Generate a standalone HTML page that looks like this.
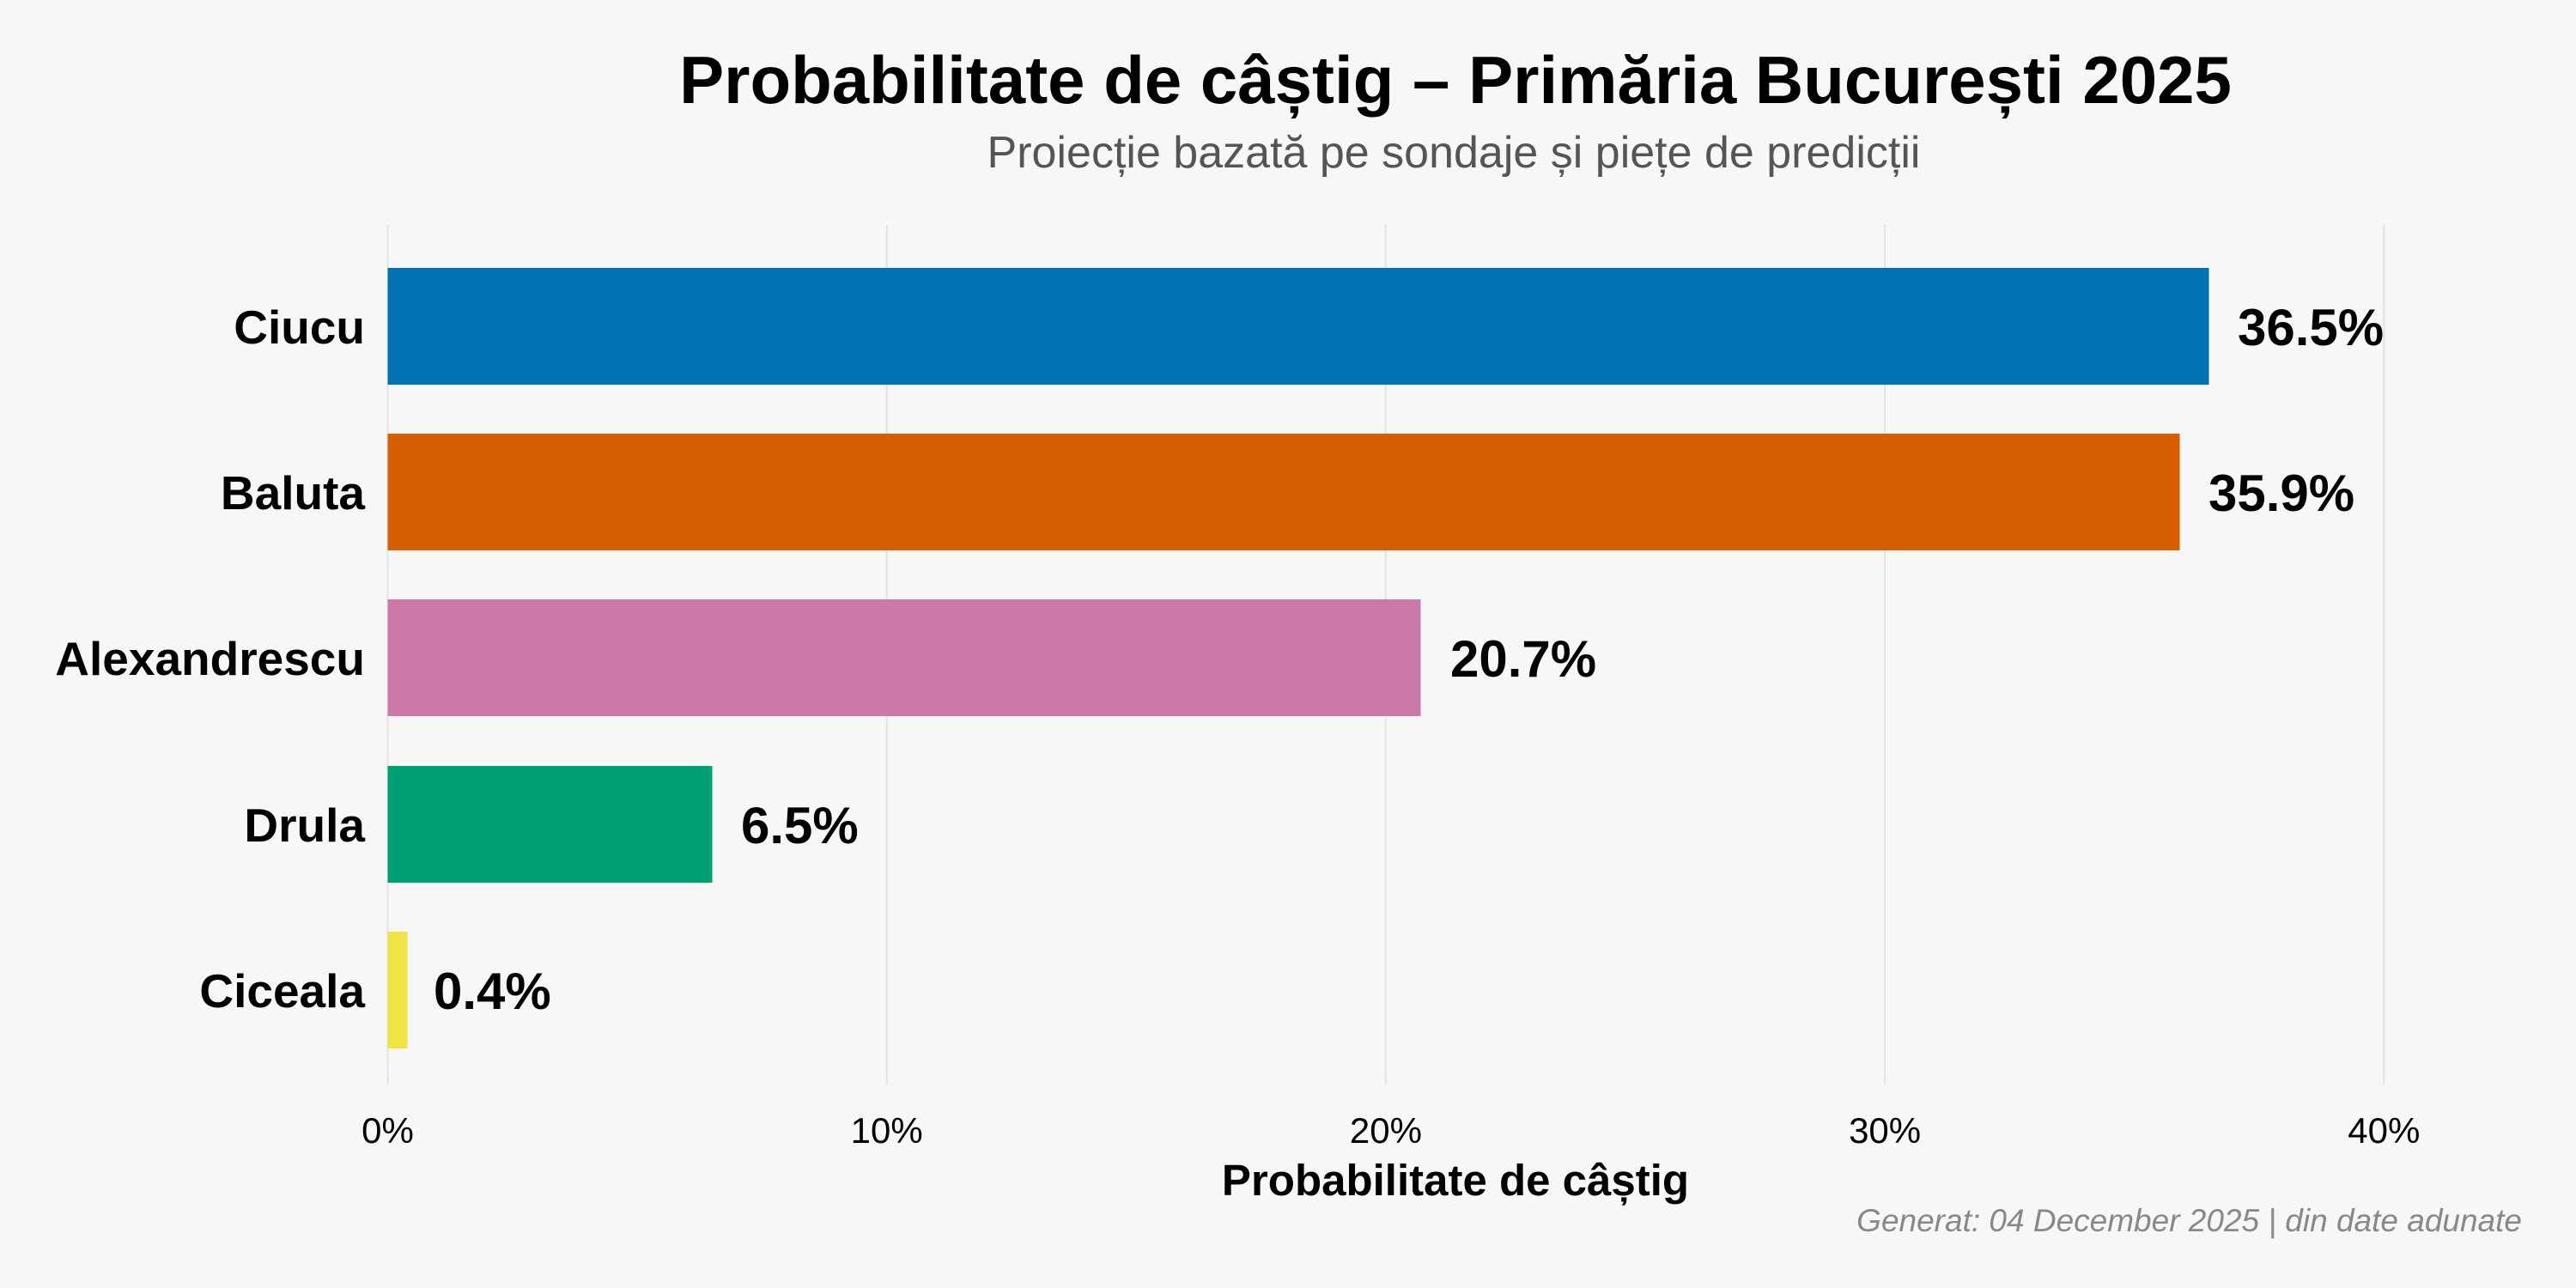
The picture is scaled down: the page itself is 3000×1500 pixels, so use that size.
<!DOCTYPE html>
<html><head><meta charset="utf-8"><style>
html,body{margin:0;padding:0;background:#f7f7f7;}
svg{display:block;font-family:"Liberation Sans","DejaVu Sans",sans-serif;}
</style></head><body>
<svg width="3000" height="1500" viewBox="0 0 3000 1500">
<rect width="3000" height="1500" fill="#f7f7f7"/>
<g stroke="#e3e3e3" stroke-width="2">
<line x1="451.5" y1="262" x2="451.5" y2="1263"/>
<line x1="1032.7" y1="262" x2="1032.7" y2="1263"/>
<line x1="1613.9" y1="262" x2="1613.9" y2="1263"/>
<line x1="2195.1" y1="262" x2="2195.1" y2="1263"/>
<line x1="2776.3" y1="262" x2="2776.3" y2="1263"/>
</g>
<text x="1695" y="120" text-anchor="middle" font-size="78" font-weight="bold" fill="#000">Probabilitate de câștig – Primăria București 2025</text>
<text x="1693" y="195" text-anchor="middle" font-size="52" fill="#555">Proiecție bazată pe sondaje și piețe de predicții</text>
<rect x="451.5" y="312" width="2121" height="136" fill="#0072b2"/>
<rect x="451.5" y="505" width="2087" height="136" fill="#d55e00"/>
<rect x="451.5" y="698" width="1203" height="136" fill="#cc79a7"/>
<rect x="451.5" y="892" width="378" height="136" fill="#009e73"/>
<rect x="451.5" y="1085" width="23" height="136" fill="#f0e442"/>
<g font-size="55" font-weight="bold" text-anchor="end" fill="#000">
<text x="425" y="400">Ciucu</text>
<text x="425" y="593">Baluta</text>
<text x="425" y="786">Alexandrescu</text>
<text x="425" y="980">Drula</text>
<text x="425" y="1173">Ciceala</text>
</g>
<g font-size="60" font-weight="bold" fill="#000">
<text x="2606" y="402">36.5%</text>
<text x="2572" y="595">35.9%</text>
<text x="1689" y="788">20.7%</text>
<text x="863" y="982">6.5%</text>
<text x="505" y="1175">0.4%</text>
</g>
<g font-size="42" text-anchor="middle" fill="#000">
<text x="451.5" y="1331">0%</text>
<text x="1032.7" y="1331">10%</text>
<text x="1613.9" y="1331">20%</text>
<text x="2195.1" y="1331">30%</text>
<text x="2776.3" y="1331">40%</text>
</g>
<text x="1695" y="1392" text-anchor="middle" font-size="51" font-weight="bold" fill="#000">Probabilitate de câștig</text>
<text x="2937" y="1434" text-anchor="end" font-size="37" font-style="italic" fill="#888">Generat: 04 December 2025 | din date adunate</text>
</svg>
</body></html>
